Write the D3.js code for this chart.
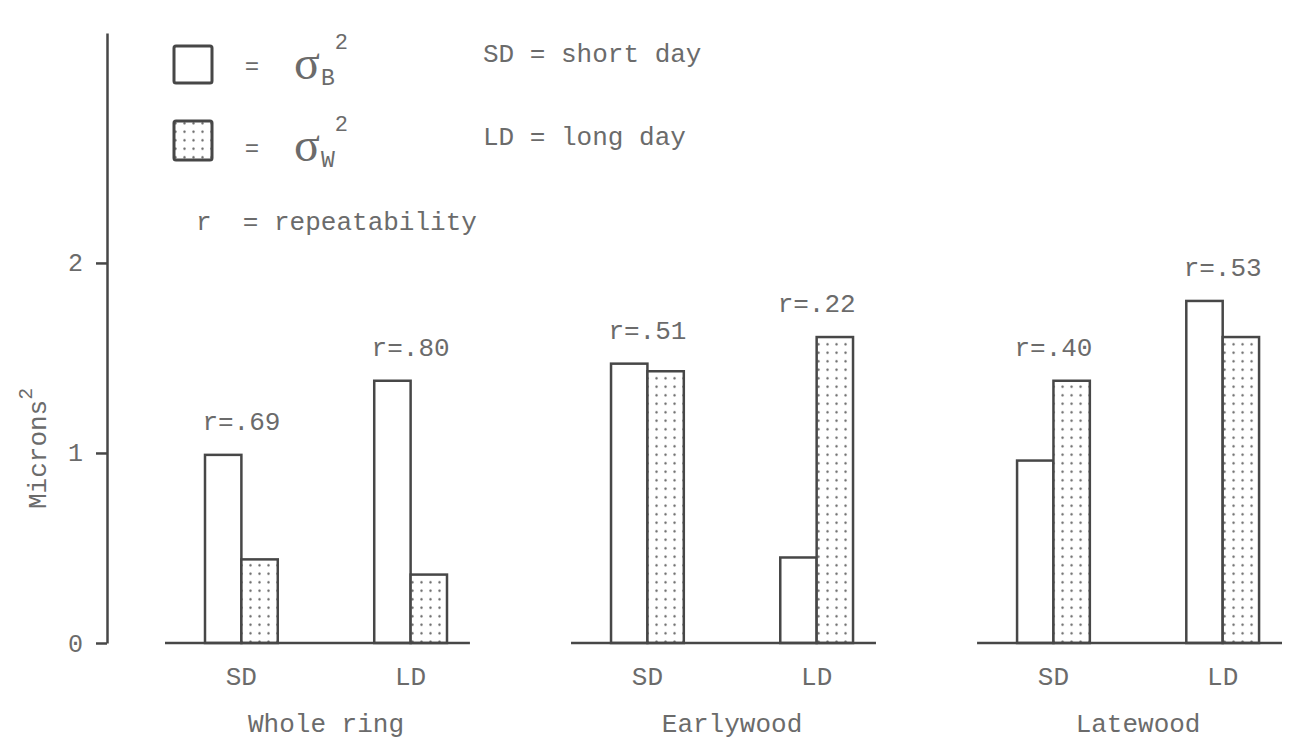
<!DOCTYPE html>
<html>
<head>
<meta charset="utf-8">
<script src="https://cdn.jsdelivr.net/npm/d3@7"></script>
<style>
  body { margin: 0; background: #fff; }
  text { font-family: "Liberation Mono", "DejaVu Sans Mono", monospace; fill: #6b6b6b; white-space: pre; }
</style>
</head>
<body>
<svg id="canvas" width="1314" height="743"></svg>
<script>
// data
var groups = ["Whole ring", "Earlywood", "Latewood"];
var days = ["SD", "LD"];
// sigma_B^2 and sigma_W^2, order: whole SD, whole LD, early SD, early LD, late SD, late LD
var sigmaB = [0.99, 1.38, 1.47, 0.45, 0.96, 1.80];
var sigmaW = [0.44, 0.36, 1.43, 1.61, 1.38, 1.61];
var repeat = [".69", ".80", ".51", ".22", ".40", ".53"];
var yTicks = [0, 1, 2];

var ink = "#474747";
var svg = d3.select("#canvas");

// dotted fill
var defs = svg.append("defs");
var pat = defs.append("pattern")
  .attr("id", "dots").attr("patternUnits", "userSpaceOnUse")
  .attr("width", 9).attr("height", 8.5);
pat.append("rect").attr("width", 9).attr("height", 8.5).attr("fill", "#fff");
pat.append("circle").attr("cx", 4.5).attr("cy", 4.2).attr("r", 1.2).attr("fill", "#666");

// ************************************************************************************** //
// Scales

var y = d3.scaleLinear().domain([0, 3.21]).range([643, 33]);
var xGroup = d3.scaleBand().domain(groups).range([165, 1282]).paddingInner(0.249);
var xDay = d3.scaleBand().domain(days).range([40, 282]).paddingInner(0.57);
var xSeries = d3.scaleBand().domain(["B", "W"]).range([0, xDay.bandwidth()]);

// ************************************************************************************** //
// Axis

var yAxis = svg.append("g").attr("transform", "translate(107,0)")
  .call(d3.axisLeft(y).tickValues(yTicks).tickSize(11).tickSizeOuter(0).tickPadding(13).tickFormat(d3.format("d")));
yAxis.select(".domain").attr("stroke", ink).attr("stroke-width", 2.5);
yAxis.selectAll(".tick line").attr("stroke", ink).attr("stroke-width", 2.5);
yAxis.selectAll(".tick text").style("font-size", "25px").style("font-family", "Liberation Mono").attr("fill", "#6b6b6b");

var ylab = svg.append("text").attr("transform", "translate(46,509) rotate(-90)").style("font-size", "26px");
ylab.append("tspan").text("Microns");
ylab.append("tspan").attr("dy", -14).style("font-size", "20px").text("2");

// ************************************************************************************** //
// Groups

groups.forEach(function (g, gi) {
  var g0 = xGroup(g);
  var grp = svg.append("g").attr("transform", "translate(" + g0 + ",0)");

  days.forEach(function (d, di) {
    var k = gi * 2 + di;
    var x0 = xDay(d);
    var vals = [{ s: "B", v: sigmaB[k] }, { s: "W", v: sigmaW[k] }];

    grp.selectAll(null).data(vals).enter().append("rect")
      .attr("x", function (e) { return x0 + xSeries(e.s); })
      .attr("y", function (e) { return y(e.v); })
      .attr("width", xSeries.bandwidth())
      .attr("height", function (e) { return y(0) - y(e.v); })
      .attr("fill", function (e) { return e.s == "W" ? "url(#dots)" : "#fff"; })
      .attr("stroke", ink).attr("stroke-width", 2.5);

    var top = d3.max(vals, function (e) { return e.v; });
    grp.append("text")
      .attr("x", x0 + xDay.bandwidth() / 2).attr("y", y(top) - 25)
      .attr("text-anchor", "middle").style("font-size", "26px")
      .text("r=" + repeat[k]);

    grp.append("text")
      .attr("x", x0 + xDay.bandwidth() / 2).attr("y", 685)
      .attr("text-anchor", "middle").style("font-size", "26px")
      .text(d);
  });

  // baseline
  grp.append("line").attr("x1", 0).attr("x2", xGroup.bandwidth())
    .attr("y1", y(0)).attr("y2", y(0))
    .attr("stroke", ink).attr("stroke-width", 2.5);

  grp.append("text")
    .attr("x", (xDay("SD") + xDay("LD") + xDay.bandwidth()) / 2).attr("y", 732)
    .attr("text-anchor", "middle").style("font-size", "26px")
    .text(g);
});

// ************************************************************************************** //
// Legend

var leg = svg.append("g");
leg.append("rect").attr("x", 174).attr("y", 46).attr("width", 38).attr("height", 37).attr("rx", 2)
  .attr("fill", "#fff").attr("stroke", ink).attr("stroke-width", 3);
leg.append("rect").attr("x", 174).attr("y", 121).attr("width", 38).attr("height", 39).attr("rx", 2)
  .attr("fill", "url(#dots)").attr("stroke", ink).attr("stroke-width", 3);

[["B", 79], ["W", 161]].forEach(function (r) {
  leg.append("text").attr("x", 252).attr("y", r[1] - 5).attr("text-anchor", "middle").style("font-size", "24px").text("=");
  var t = leg.append("text").attr("x", 294).attr("y", r[1]);
  t.append("tspan").style("font-family", "Liberation Serif").style("font-size", "48px").text("σ");
  t.append("tspan").attr("dy", 6).attr("dx", 1).style("font-size", "23px").text(r[0]);
  t.append("tspan").attr("dy", -36).attr("dx", 0).style("font-size", "22px").text("2");
});

leg.append("text").attr("x", 483).attr("y", 62).style("font-size", "26px").text("SD = short day");
leg.append("text").attr("x", 483).attr("y", 145).style("font-size", "26px").text("LD = long day");
leg.append("text").attr("x", 196).attr("y", 230).style("font-size", "26px").text("r  = repeatability");
</script>
</body>
</html>
